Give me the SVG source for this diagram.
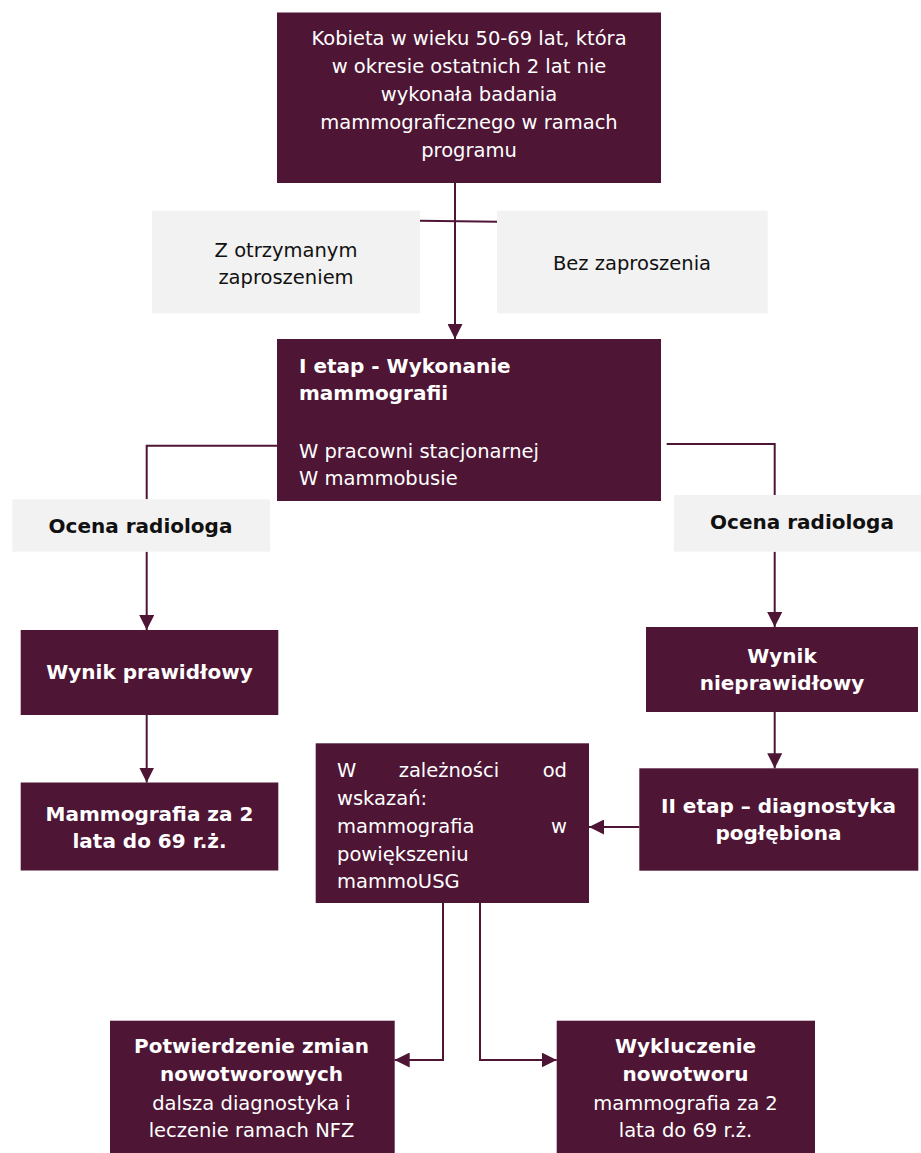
<svg xmlns="http://www.w3.org/2000/svg" width="921" height="1153" viewBox="0 0 921 1153">
  <style>
    .box { fill: #4e1535; }
    .gray { fill: #f2f2f2; }
    .conn { fill: none; stroke: #4e1535; stroke-width: 2; }
    .w { fill: #ffffff; font-family: "DejaVu Sans", "Liberation Sans", sans-serif; font-size: 19.5px; }
    .wb { fill: #ffffff; font-family: "DejaVu Sans", "Liberation Sans", sans-serif; font-size: 20px; font-weight: bold; }
    .d { fill: #111111; font-family: "DejaVu Sans", "Liberation Sans", sans-serif; font-size: 19.5px; }
    .db { fill: #111111; font-family: "DejaVu Sans", "Liberation Sans", sans-serif; font-size: 20px; font-weight: bold; }
    .c { text-anchor: middle; }
  </style>
  <defs>
    <marker id="arrow" markerUnits="userSpaceOnUse" markerWidth="15" markerHeight="15" refX="15" refY="7.5" orient="auto">
      <path d="M0,0 L15,7.5 L0,15 z" fill="#4e1535"/>
    </marker>
  </defs>
  <rect width="921" height="1153" fill="#ffffff"/>

  <g id="connectors">
    <line class="conn" x1="455" y1="183" x2="455" y2="339" marker-end="url(#arrow)"/>
    <line class="conn" x1="420" y1="220.7" x2="498" y2="221.7"/>
    <polyline class="conn" points="277,445.7 146.7,445.7 146.7,499.3"/>
    <line class="conn" x1="146.7" y1="551.7" x2="146.7" y2="630" marker-end="url(#arrow)"/>
    <line class="conn" x1="146.7" y1="715" x2="146.7" y2="782.5" marker-end="url(#arrow)"/>
    <polyline class="conn" points="666.7,444 774.7,444 774.7,495"/>
    <line class="conn" x1="774.7" y1="551.7" x2="774.7" y2="627" marker-end="url(#arrow)"/>
    <line class="conn" x1="774.7" y1="712" x2="774.7" y2="768.3" marker-end="url(#arrow)"/>
    <line class="conn" x1="639.3" y1="827" x2="589" y2="827" marker-end="url(#arrow)"/>
    <polyline class="conn" points="443,903 443,1060 394.7,1060" marker-end="url(#arrow)"/>
    <polyline class="conn" points="480,903 480,1060 556.7,1060" marker-end="url(#arrow)"/>
  </g>

  <g id="start">
    <rect class="box" x="277" y="12.5" width="384" height="170.5"/>
    <text class="w c" x="469" y="45">Kobieta w wieku 50-69 lat, która</text>
    <text class="w c" x="469" y="73">w okresie ostatnich 2 lat nie</text>
    <text class="w c" x="469" y="101">wykonała badania</text>
    <text class="w c" x="469" y="129">mammograficznego w ramach</text>
    <text class="w c" x="469" y="157">programu</text>
  </g>

  <g id="invite">
    <rect class="gray" x="152" y="210.7" width="268" height="102.6"/>
    <text class="d c" x="286" y="256.7">Z otrzymanym</text>
    <text class="d c" x="286" y="283.5">zaproszeniem</text>
  </g>

  <g id="noinvite">
    <rect class="gray" x="497" y="210.7" width="270.7" height="102.6"/>
    <text class="d c" x="632" y="270">Bez zaproszenia</text>
  </g>

  <g id="stage1">
    <rect class="box" x="277" y="339" width="384" height="162"/>
    <text class="wb" x="299" y="373">I etap - Wykonanie</text>
    <text class="wb" x="299" y="400">mammografii</text>
    <text class="w" x="299" y="458">W pracowni stacjonarnej</text>
    <text class="w" x="299" y="484.5">W mammobusie</text>
  </g>

  <g id="radiolog-left">
    <rect class="gray" x="12.3" y="499.3" width="257.7" height="52.4"/>
    <text class="db c" x="140.5" y="533">Ocena radiologa</text>
  </g>

  <g id="radiolog-right">
    <rect class="gray" x="674" y="495" width="247" height="56.7"/>
    <text class="db c" x="802" y="529.3">Ocena radiologa</text>
  </g>

  <g id="normal">
    <rect class="box" x="20.7" y="630" width="257.6" height="85"/>
    <text class="wb c" x="149.5" y="679.3">Wynik prawidłowy</text>
  </g>

  <g id="abnormal">
    <rect class="box" x="646" y="627" width="272" height="85"/>
    <text class="wb c" x="782" y="663.3">Wynik</text>
    <text class="wb c" x="782" y="690">nieprawidłowy</text>
  </g>

  <g id="repeat">
    <rect class="box" x="20.7" y="782.5" width="257.6" height="88"/>
    <text class="wb c" x="149.5" y="820.7">Mammografia za 2</text>
    <text class="wb c" x="149.5" y="847.7">lata do 69 r.ż.</text>
  </g>

  <g id="stage2">
    <rect class="box" x="639.3" y="768.3" width="279" height="102.4"/>
    <text class="wb c" x="778.5" y="813.3">II etap – diagnostyka</text>
    <text class="wb c" x="778.5" y="840">pogłębiona</text>
  </g>

  <g id="indications">
    <rect class="box" x="315.7" y="743.3" width="273.3" height="159.7"/>
    <text class="w" y="776.7"><tspan x="337">W</tspan> <tspan x="452" text-anchor="middle">zależności</tspan> <tspan x="567" text-anchor="end">od</tspan></text>
    <text class="w" x="337" y="805">wskazań:</text>
    <text class="w" y="832.7"><tspan x="337">mammografia</tspan> <tspan x="567" text-anchor="end">w</tspan></text>
    <text class="w" x="337" y="860.7">powiększeniu</text>
    <text class="w" x="337" y="888.3">mammoUSG</text>
  </g>

  <g id="confirm">
    <rect class="box" x="110" y="1020.7" width="284.7" height="140"/>
    <text class="wb c" x="251.5" y="1053.3">Potwierdzenie zmian</text>
    <text class="wb c" x="251.5" y="1081">nowotworowych</text>
    <text class="w c" x="251.5" y="1110">dalsza diagnostyka i</text>
    <text class="w c" x="251.5" y="1136.7">leczenie ramach NFZ</text>
  </g>

  <g id="exclude">
    <rect class="box" x="556.7" y="1020.7" width="258.3" height="140"/>
    <text class="wb c" x="685.5" y="1053.3">Wykluczenie</text>
    <text class="wb c" x="685.5" y="1081">nowotworu</text>
    <text class="w c" x="685.5" y="1110">mammografia za 2</text>
    <text class="w c" x="685.5" y="1136.7">lata do 69 r.ż.</text>
  </g>
</svg>
